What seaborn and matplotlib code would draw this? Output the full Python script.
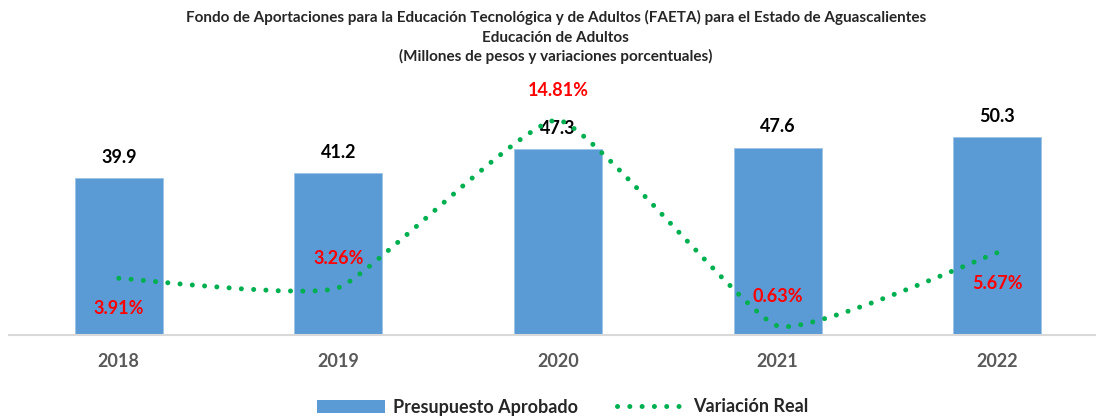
import numpy as np
import pandas as pd
import matplotlib
matplotlib.use("Agg")
import matplotlib.pyplot as plt
from matplotlib.path import Path
from matplotlib.patches import PathPatch, Patch
from matplotlib.lines import Line2D
import seaborn as sns

# data
years = ["2018", "2019", "2020", "2021", "2022"]
presupuesto = [39.9, 41.2, 47.3, 47.6, 50.3]
variacion = [3.91, 3.26, 14.81, 0.63, 5.67]
var_labels = ["3.91%", "3.26%", "14.81%", "0.63%", "5.67%"]
# label placement for the % labels: +1 above the point, -1 below
var_side = [-1, 1, 1, 1, -1]

title_lines = [
    "Fondo de Aportaciones para la Educación Tecnológica y de Adultos (FAETA) para el Estado de Aguascalientes",
    "Educación de Adultos",
    "(Millones de pesos y variaciones porcentuales)",
]

BAR_COLOR = "#5b9bd5"
LINE_COLOR = "#00b050"
RED = "#ff0000"

sns.set_theme(style="white")
plt.rcParams["font.family"] = ["Lato", "DejaVu Sans"]

df = pd.DataFrame({"year": years, "presupuesto": presupuesto, "variacion": variacion})

fig = plt.figure(figsize=(10.96, 4.18), dpi=100)
ax = fig.add_axes([9 / 1096, 83 / 418, 1 - 9 / 1096, 236 / 418])

sns.barplot(data=df, x="year", y="presupuesto", color=BAR_COLOR, width=0.4,
            edgecolor="#9dc3e6", linewidth=0.6, saturation=1, ax=ax)
ax.set_xlim(-0.5, 4.45)
ax.set_ylim(0, 60)

for i, v in enumerate(presupuesto):
    ax.annotate(f"{v:.1f}", (i, v), xytext=(0, 15), textcoords="offset points",
                ha="center", va="center", fontsize=13, fontweight="bold", color="black")

# secondary axis for the real variation, lightly smoothed like the spreadsheet chart
ax2 = ax.twinx()
ax2.set_ylim(0, 60 * 3.93 / 14.5)
xs = np.arange(len(variacion), dtype=float)
ys = np.array(variacion, dtype=float)
pts = np.column_stack([xs, ys])
smooth = 1 / 14.0
verts = [tuple(pts[0])]
codes = [Path.MOVETO]
for k in range(len(pts) - 1):
    p0 = pts[max(k - 1, 0)]
    p1 = pts[k]
    p2 = pts[k + 1]
    p3 = pts[min(k + 2, len(pts) - 1)]
    c1 = p1 + (p2 - p0) * smooth
    c2 = p2 - (p3 - p1) * smooth
    verts += [tuple(c1), tuple(c2), tuple(p2)]
    codes += [Path.CURVE4] * 3
curve = PathPatch(Path(verts, codes), facecolor="none", edgecolor=LINE_COLOR,
                  linewidth=3.6, linestyle=(0, (0.01, 2.45)), capstyle="round", zorder=3)
ax2.add_patch(curve)

for i, (v, lab, side) in enumerate(zip(variacion, var_labels, var_side)):
    off = 22 if side < 0 else 21
    ax2.annotate(lab, (i, v), xytext=(0, off * side), textcoords="offset points",
                 ha="center", va="center", fontsize=13, fontweight="bold", color=RED)

for a in (ax, ax2):
    for s in ["top", "right", "left"]:
        a.spines[s].set_visible(False)
    a.set_yticks([])
    a.set_ylabel("")
ax2.spines["bottom"].set_visible(False)
ax.spines["bottom"].set_color("#d9d9d9")
ax.spines["bottom"].set_linewidth(1.5)
ax.set_xlabel("")
ax.tick_params(axis="x", length=0, pad=13, labelsize=13, labelcolor="#595959")
for t in ax.get_xticklabels():
    t.set_fontweight("bold")

for line, base_px in zip(title_lines, [22, 41.5, 61]):
    fig.text(0.507, 1 - base_px / 418, line, ha="center", va="baseline",
             fontsize=11, fontweight="bold")

handles = [Patch(facecolor=BAR_COLOR, edgecolor="none"),
           Line2D([0], [0], color=LINE_COLOR, linewidth=3.6, linestyle=(0, (0.01, 2.45)),
                  dash_capstyle="round")]
leg = fig.legend(handles, ["Presupuesto Aprobado", "Variación Real"], loc="center",
                 bbox_to_anchor=(563 / 1096, 11 / 418), ncol=2, frameon=False,
                 handlelength=3.77, handletextpad=0.45, columnspacing=2.15,
                 prop={"size": 13, "weight": "bold"})

fig.savefig("out.png", dpi=100)
